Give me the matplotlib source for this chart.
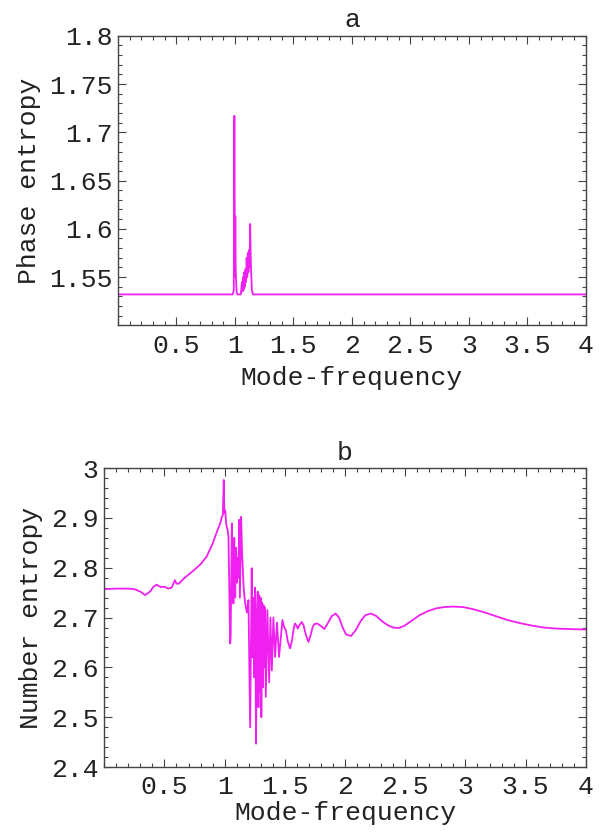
import matplotlib
matplotlib.use("Agg")
import matplotlib.pyplot as plt
from matplotlib.ticker import MultipleLocator, FixedLocator

# ---- data ----
phase_freq = [0.0, 0.98, 0.99, 0.995, 1.0, 1.003, 1.006, 1.01, 1.015, 1.02, 1.035,
              1.05, 1.06, 1.065, 1.07, 1.075, 1.08, 1.085, 1.09, 1.095, 1.10, 1.105,
              1.11, 1.115, 1.12, 1.125, 1.13, 1.135, 1.14, 1.145, 1.155, 1.17, 4.0]
phase_entropy = [1.532, 1.532, 1.536, 1.717, 1.55, 1.613, 1.56, 1.545, 1.534, 1.532, 1.532,
                 1.532, 1.545, 1.535, 1.55, 1.537, 1.555, 1.54, 1.558, 1.545, 1.57, 1.55,
                 1.575, 1.555, 1.578, 1.56, 1.605, 1.57, 1.55, 1.536, 1.532, 1.532, 1.532]

number_freq = [0.0, 0.1, 0.2, 0.25, 0.3, 0.34, 0.38, 0.41, 0.435, 0.47, 0.5, 0.53, 0.56,
               0.587, 0.6, 0.62, 0.66, 0.7, 0.75, 0.8, 0.85, 0.9, 0.94, 0.963, 0.977,
               0.985, 0.993, 0.998, 1.005, 1.012, 1.018, 1.025, 1.032, 1.046, 1.050,
               1.060, 1.066, 1.073, 1.080, 1.088, 1.095, 1.102, 1.110, 1.115, 1.120,
               1.127, 1.137, 1.145, 1.158, 1.170, 1.185, 1.198, 1.212, 1.225, 1.232,
               1.238, 1.245, 1.253, 1.261, 1.268, 1.275, 1.281, 1.287, 1.293, 1.299,
               1.305, 1.311, 1.317, 1.323, 1.330, 1.336, 1.342, 1.355, 1.370, 1.380,
               1.392, 1.405, 1.419, 1.435, 1.452, 1.480, 1.495, 1.508, 1.525, 1.544,
               1.560, 1.575, 1.585, 1.597, 1.607, 1.620, 1.640, 1.655, 1.675, 1.696,
               1.715, 1.730, 1.745, 1.770, 1.800, 1.828, 1.860, 1.890, 1.922, 1.950,
               1.980, 2.010, 2.050, 2.090, 2.130, 2.170, 2.216, 2.260, 2.310, 2.360,
               2.400, 2.443, 2.490, 2.550, 2.620, 2.690, 2.750, 2.820, 2.900, 2.980,
               3.060, 3.150, 3.250, 3.350, 3.450, 3.550, 3.650, 3.750, 3.850, 4.000]
number_entropy = [2.757, 2.758, 2.758, 2.757, 2.752, 2.745, 2.752, 2.762, 2.766, 2.761,
                  2.762, 2.758, 2.760, 2.775, 2.768, 2.768, 2.778, 2.786, 2.796, 2.807,
                  2.822, 2.848, 2.875, 2.889, 2.902, 2.905, 2.976, 2.910, 2.915, 2.890,
                  2.882, 2.875, 2.862, 2.648, 2.660, 2.889, 2.800, 2.728, 2.860, 2.740,
                  2.840, 2.770, 2.820, 2.780, 2.896, 2.740, 2.902, 2.830, 2.760, 2.729,
                  2.710, 2.735, 2.480, 2.799, 2.620, 2.740, 2.580, 2.760, 2.447, 2.700,
                  2.752, 2.520, 2.745, 2.550, 2.740, 2.500, 2.730, 2.560, 2.725, 2.600,
                  2.720, 2.541, 2.715, 2.570, 2.700, 2.594, 2.700, 2.621, 2.690, 2.621,
                  2.695, 2.680, 2.675, 2.652, 2.638, 2.655, 2.680, 2.688, 2.684, 2.678,
                  2.684, 2.691, 2.685, 2.665, 2.651, 2.665, 2.680, 2.687, 2.688, 2.683,
                  2.677, 2.690, 2.703, 2.708, 2.700, 2.680, 2.666, 2.663, 2.675, 2.693,
                  2.705, 2.708, 2.703, 2.692, 2.684, 2.680, 2.679, 2.683, 2.693, 2.705,
                  2.713, 2.718, 2.721, 2.722, 2.721, 2.717, 2.711, 2.703, 2.695, 2.689,
                  2.684, 2.680, 2.678, 2.677, 2.676]

x_major = [0.5, 1, 1.5, 2, 2.5, 3, 3.5, 4]
x_labels = ["0.5", "1", "1.5", "2", "2.5", "3", "3.5", "4"]
ya_major = [1.55, 1.6, 1.65, 1.7, 1.75, 1.8]
ya_labels = ["1.55", "1.6", "1.65", "1.7", "1.75", "1.8"]
yb_major = [2.4, 2.5, 2.6, 2.7, 2.8, 2.9, 3.0]
yb_labels = ["2.4", "2.5", "2.6", "2.7", "2.8", "2.9", "3"]

LINE = "#f020f0"
FONT = "Liberation Mono"
FS = 19

plt.rcParams["font.family"] = [FONT, "DejaVu Sans"]

fig = plt.figure(figsize=(5.99, 8.32), dpi=100)
ax1 = fig.add_axes([0.197, 0.609, 0.781, 0.348])
ax2 = fig.add_axes([0.174, 0.078, 0.804, 0.3595])


def style(ax, ymaj, ylab, yminor, ylim, title, ylabel, xpad):
    ax.set_xlim(0, 4)
    ax.set_ylim(*ylim)
    ax.xaxis.set_major_locator(FixedLocator(x_major))
    ax.set_xticklabels(x_labels)
    ax.xaxis.set_minor_locator(MultipleLocator(0.1))
    ax.yaxis.set_major_locator(FixedLocator(ymaj))
    ax.set_yticklabels(ylab)
    ax.yaxis.set_minor_locator(MultipleLocator(yminor))
    ax.tick_params(which="both", direction="in", top=True, right=True,
                   colors="#444444", labelcolor="#222222", labelsize=FS, width=0.8)
    ax.tick_params(which="major", length=6)
    ax.tick_params(which="minor", length=3)
    ax.tick_params(axis="x", pad=6)
    ax.tick_params(axis="y", pad=4)
    for s in ax.spines.values():
        s.set_color("#444444")
        s.set_linewidth(1.0)
    ax.set_title(title, fontsize=FS, pad=6, color="#222222")
    ax.set_xlabel("Mode-frequency", fontsize=FS, color="#222222", labelpad=xpad)
    ax.set_ylabel(ylabel, fontsize=FS, color="#222222", labelpad=6)


ax1.plot(phase_freq, phase_entropy, color=LINE, lw=1.3)
style(ax1, ya_major, ya_labels, 0.01, (1.5, 1.8), "a", "Phase entropy", 6)

ax2.plot(number_freq, number_entropy, color=LINE, lw=1.3)
style(ax2, yb_major, yb_labels, 0.02, (2.4, 3.0), "b", "Number entropy", 1)

fig.savefig("out.png", dpi=100)
